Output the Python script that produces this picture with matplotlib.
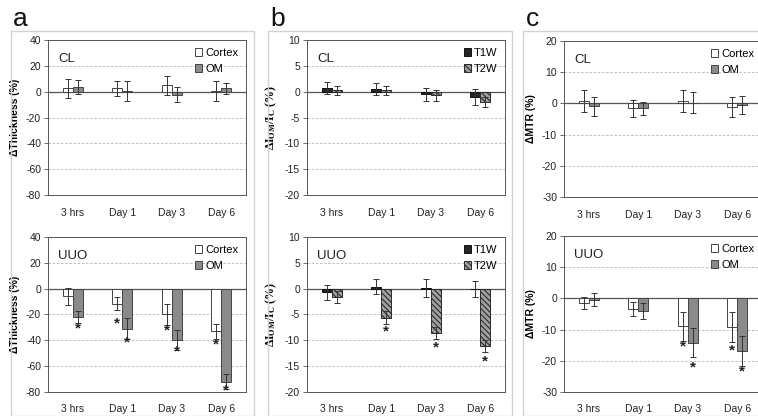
from __future__ import annotations

import matplotlib

matplotlib.use("Agg")
import matplotlib.pyplot as plt
import numpy as np
from matplotlib.patches import Rectangle

plt.rcParams["font.family"] = ["Liberation Sans", "DejaVu Sans"]
plt.rcParams["axes.unicode_minus"] = False
plt.rcParams["hatch.linewidth"] = 0.8
plt.rcParams["mathtext.fontset"] = "custom"
plt.rcParams["mathtext.rm"] = "Liberation Serif:bold"
plt.rcParams["mathtext.it"] = "Liberation Serif:bold"
plt.rcParams["mathtext.bf"] = "Liberation Serif:bold"

CATEGORIES = ["3 hrs", "Day 1", "Day 3", "Day 6"]

# panel a: cortical / outer medulla thickness change (%)
A_CL_CORTEX = [2.5, 2.5, 5.0, 0.5]
A_CL_CORTEX_ERR = [7.3, 6.0, 7.5, 7.7]
A_CL_OM = [3.4, 0.5, -2.3, 2.6]
A_CL_OM_ERR = [5.4, 7.8, 5.7, 4.3]
A_UUO_CORTEX = [-6.0, -11.7, -20.0, -33.0]
A_UUO_CORTEX_ERR = [6.5, 5.0, 8.0, 6.0]
A_UUO_OM = [-22.0, -31.0, -39.5, -72.0]
A_UUO_OM_ERR = [4.5, 8.0, 7.8, 6.0]
A_UUO_CORTEX_STAR = [None, -27.0, -32.0, -43.5]
A_UUO_OM_STAR = [-31.0, -42.0, -49.0, -79.0]

# panel b: OM/cortex signal intensity ratio change (%)
B_CL_T1W = [0.75, 0.5, -0.5, -1.0]
B_CL_T1W_ERR = [1.2, 1.1, 1.3, 1.6]
B_CL_T2W = [0.3, 0.3, -0.7, -2.0]
B_CL_T2W_ERR = [0.85, 0.85, 1.1, 0.9]
B_UUO_T1W = [-0.7, 0.4, 0.1, -0.1]
B_UUO_T1W_ERR = [1.5, 1.4, 1.75, 1.6]
B_UUO_T2W = [-1.6, -5.6, -8.6, -11.1]
B_UUO_T2W_ERR = [1.1, 1.3, 1.2, 1.2]
B_UUO_T1W_STAR = [None, None, None, None]
B_UUO_T2W_STAR = [None, -8.2, -11.3, -14.0]

# panel c: magnetization transfer ratio change (%)
C_CL_CORTEX = [0.8, -1.5, 0.7, -1.2]
C_CL_CORTEX_ERR = [3.5, 2.7, 3.5, 3.2]
C_CL_OM = [-0.9, -1.6, 0.2, -0.5]
C_CL_OM_ERR = [3.0, 2.0, 3.3, 2.85]
C_UUO_CORTEX = [-1.5, -3.5, -9.0, -9.3]
C_UUO_CORTEX_ERR = [2.0, 2.3, 4.6, 4.8]
C_UUO_OM = [-0.4, -4.0, -14.2, -16.8]
C_UUO_OM_ERR = [2.1, 2.5, 4.6, 4.9]
C_UUO_CORTEX_STAR = [None, None, -15.5, -16.6]
C_UUO_OM_STAR = [None, None, -22.0, -23.5]

FIG_W, FIG_H = 758, 416
BAR_W = 0.2
EDGE = "#444444"

CORTEX_STYLE = dict(facecolor="white", edgecolor=EDGE, label="Cortex")
OM_STYLE = dict(facecolor="#8a8a8a", edgecolor=EDGE, label="OM")
T1W_STYLE = dict(facecolor="#262626", edgecolor="#111111", label="T1W")
T2W_STYLE = dict(facecolor="#a0a0a0", edgecolor="#2a2a2a", hatch="\\\\\\\\\\\\", label="T2W")


def _px_axes(fig, left, top, right, bottom):
    return fig.add_axes([left / FIG_W, 1 - bottom / FIG_H, (right - left) / FIG_W, (bottom - top) / FIG_H])


def _draw_panel(ax, group, s1, e1, s2, e2, st1, st2, style1, style2, ylim, step, ylabel, label_size=7.5):
    x = np.arange(len(CATEGORIES))
    err_kw = dict(ecolor="#333333", elinewidth=0.7, capsize=2, capthick=0.7)
    ax.bar(x - BAR_W / 2, s1, BAR_W, yerr=e1, linewidth=0.7, error_kw=err_kw, zorder=3, **style1)
    ax.bar(x + BAR_W / 2, s2, BAR_W, yerr=e2, linewidth=0.7, error_kw=err_kw, zorder=3, **style2)

    for xs, stars in ((x - BAR_W / 2, st1), (x + BAR_W / 2, st2)):
        for xi, yi in zip(xs, stars):
            if yi is not None:
                ax.text(xi, yi, "*", ha="center", va="center", fontsize=11,
                        fontweight="bold", color="#222222", zorder=4)

    ax.set_xlim(-0.5, len(CATEGORIES) - 0.5)
    ax.set_ylim(*ylim)
    ticks = np.arange(ylim[0], ylim[1] + step / 2, step)
    ax.set_yticks(ticks)
    ax.set_xticks(x)
    ax.set_xticklabels(CATEGORIES)
    for t in ticks:
        if t == 0:
            ax.axhline(0, color="#555555", linewidth=0.9, zorder=2)
        elif ylim[0] < t < ylim[1]:
            ax.axhline(t, color="#b5b5b5", linewidth=0.6, linestyle=(0, (3, 2)), zorder=1)

    ax.tick_params(axis="x", length=0, pad=9, labelsize=7.5, colors="#222222")
    ax.tick_params(axis="y", length=3, width=0.6, color="#555555", pad=2, labelsize=7.5, labelcolor="#222222")
    for spine in ax.spines.values():
        spine.set_color("#555555")
        spine.set_linewidth(0.7)

    ax.set_ylabel(ylabel, fontsize=label_size, fontweight="bold", labelpad=4)
    ax.text(0.05, 0.86, group, transform=ax.transAxes, fontsize=9.5, color="#222222")
    ax.legend(
        loc="upper right",
        frameon=False,
        fontsize=8,
        handlelength=0.65,
        handleheight=0.65,
        handletextpad=0.25,
        labelspacing=0.55,
        borderaxespad=0.3,
    )


def main() -> None:
    fig = plt.figure(figsize=(FIG_W / 100, FIG_H / 100), dpi=100)

    # light grey frames around each panel
    for left, right in ((11, 254), (268, 512), (523, 770)):
        fig.add_artist(
            Rectangle(
                (left / FIG_W, 0),
                (right - left) / FIG_W,
                1 - 31 / FIG_H,
                transform=fig.transFigure,
                fill=False,
                edgecolor="#d2d2d2",
                linewidth=1.0,
            )
        )
    for xpos, letter in ((13, "a"), (270, "b"), (526, "c")):
        fig.text(xpos / FIG_W, 1 - 26 / FIG_H, letter, fontsize=19, color="#111111")

    thick_label = "\u0394Thickness (%)"
    ratio_label = r"$\Delta I_{OM}/I_C\ (\%)$"
    mtr_label = "\u0394MTR (%)"

    ax = _px_axes(fig, 48, 40, 246, 195)
    _draw_panel(ax, "CL", A_CL_CORTEX, A_CL_CORTEX_ERR, A_CL_OM, A_CL_OM_ERR,
                [None] * 4, [None] * 4, CORTEX_STYLE, OM_STYLE, (-80, 40), 20, thick_label)
    ax = _px_axes(fig, 48, 237, 246, 392)
    _draw_panel(ax, "UUO", A_UUO_CORTEX, A_UUO_CORTEX_ERR, A_UUO_OM, A_UUO_OM_ERR,
                A_UUO_CORTEX_STAR, A_UUO_OM_STAR, CORTEX_STYLE, OM_STYLE, (-80, 40), 20, thick_label)

    ax = _px_axes(fig, 307, 40, 505, 195)
    _draw_panel(ax, "CL", B_CL_T1W, B_CL_T1W_ERR, B_CL_T2W, B_CL_T2W_ERR,
                [None] * 4, [None] * 4, T1W_STYLE, T2W_STYLE, (-20, 10), 5, ratio_label, 8.5)
    ax = _px_axes(fig, 307, 237, 505, 392)
    _draw_panel(ax, "UUO", B_UUO_T1W, B_UUO_T1W_ERR, B_UUO_T2W, B_UUO_T2W_ERR,
                B_UUO_T1W_STAR, B_UUO_T2W_STAR, T1W_STYLE, T2W_STYLE, (-20, 10), 5, ratio_label, 8.5)

    ax = _px_axes(fig, 564, 41, 762, 197)
    _draw_panel(ax, "CL", C_CL_CORTEX, C_CL_CORTEX_ERR, C_CL_OM, C_CL_OM_ERR,
                [None] * 4, [None] * 4, CORTEX_STYLE, OM_STYLE, (-30, 20), 10, mtr_label)
    ax = _px_axes(fig, 564, 236, 762, 392)
    _draw_panel(ax, "UUO", C_UUO_CORTEX, C_UUO_CORTEX_ERR, C_UUO_OM, C_UUO_OM_ERR,
                C_UUO_CORTEX_STAR, C_UUO_OM_STAR, CORTEX_STYLE, OM_STYLE, (-30, 20), 10, mtr_label)

    fig.savefig("out.png", dpi=100)
    plt.close(fig)


if __name__ == "__main__":
    main()
